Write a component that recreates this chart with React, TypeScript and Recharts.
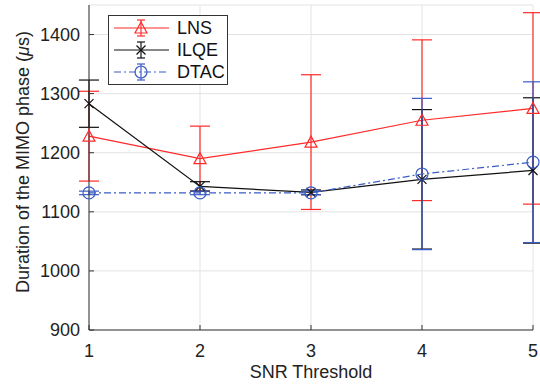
import React from 'react';
import { ComposedChart, Line, XAxis, YAxis, CartesianGrid, ErrorBar } from 'recharts';

const snr = [1, 2, 3, 4, 5];
const lns = [1228, 1190, 1218, 1255, 1275];
const lnsErr = [76, 55, 114, 136, 162];
const ilqe = [1283, 1143, 1133, 1155, 1170];
const ilqeErr = [40, 8, 4, 118, 123];
const dtac = [1132, 1132, 1132, 1164, 1184];
const dtacErr = [3, 3, 3, 128, 136];
const yTicks = [900, 1000, 1100, 1200, 1300, 1400];

const RED = '#ff2a2a';
const BLACK = '#111111';
const BLUE = '#3a5cc6';
const FONT = '"Liberation Sans", Arial, sans-serif';

const data = snr.map((s, i) => ({
  snr: s,
  lns: lns[i],
  lnsErr: lnsErr[i],
  ilqe: ilqe[i],
  ilqeErr: ilqeErr[i],
  dtac: dtac[i],
  dtacErr: dtacErr[i],
}));

const Triangle = ({ cx, cy, color }: any) => (
  <polygon points={`${cx},${cy - 6} ${cx - 6},${cy + 5} ${cx + 6},${cy + 5}`} fill="none" stroke={color} strokeWidth={1.2} />
);
const Cross = ({ cx, cy, color }: any) => (
  <g stroke={color} strokeWidth={1.2}>
    <line x1={cx - 4.5} y1={cy - 4.5} x2={cx + 4.5} y2={cy + 4.5} />
    <line x1={cx - 4.5} y1={cy + 4.5} x2={cx + 4.5} y2={cy - 4.5} />
  </g>
);
const Circle = ({ cx, cy, color }: any) => (
  <circle cx={cx} cy={cy} r={6} fill="none" stroke={color} strokeWidth={1.2} />
);

const series = [
  { name: 'LNS', color: RED, dash: undefined as string | undefined, Marker: Triangle },
  { name: 'ILQE', color: BLACK, dash: undefined as string | undefined, Marker: Cross },
  { name: 'DTAC', color: BLUE, dash: '7 3 2 3', Marker: Circle },
];

// legend drawn over the chart, like the MATLAB one in the top-left corner
const LegendBox = () => (
  <div
    style={{
      position: 'absolute', left: 108, top: 15, border: '1px solid #333', background: '#fff',
      width: 120, padding: '1px 0', fontFamily: FONT, fontSize: 18, boxSizing: 'border-box',
    }}
  >
    {series.map(({ name, color, dash, Marker }) => (
      <div key={name} style={{ display: 'flex', alignItems: 'center', height: 22 }}>
        <svg width={64} height={22} style={{ display: 'block' }}>
          <line x1={5} y1={11} x2={60} y2={11} stroke={color} strokeWidth={1.2} strokeDasharray={dash} />
          <line x1={32} y1={3} x2={32} y2={19} stroke={color} strokeWidth={1.2} />
          <line x1={28} y1={3} x2={36} y2={3} stroke={color} strokeWidth={1.2} />
          <line x1={28} y1={19} x2={36} y2={19} stroke={color} strokeWidth={1.2} />
          <Marker cx={32} cy={11} color={color} />
        </svg>
        <span style={{ marginLeft: 4, color: '#111' }}>{name}</span>
      </div>
    ))}
  </div>
);

const YLabel = () => {
  const x = 29;
  const y = 162;
  return (
    <text x={x} y={y} transform={`rotate(-90 ${x} ${y})`} textAnchor="middle" fontFamily={FONT} fontSize={18} fill="#222">
      Duration of the MIMO phase (<tspan fontStyle="italic">μ</tspan>s)
    </text>
  );
};

export default function App() {
  const tickStyle = { fontFamily: FONT, fontSize: 18, fill: '#222' };
  return (
    <div style={{ position: 'absolute', left: 0, top: 0, width: 540, height: 384, background: '#fff' }}>
      <ComposedChart width={540} height={384} data={data} margin={{ top: 5, right: 7, left: 0, bottom: 0 }}>
        <CartesianGrid stroke="#e3e3e3" />
        {/* negative tickSize = MATLAB style inward ticks */}
        <XAxis
          dataKey="snr"
          type="number"
          domain={[1, 5]}
          ticks={snr}
          tickSize={-5}
          tickMargin={19}
          height={54}
          stroke="#333"
          tick={tickStyle}
          label={{ value: 'SNR Threshold', position: 'insideBottom', offset: 6, style: { fontFamily: FONT, fontSize: 18, fill: '#222' } }}
        />
        <XAxis xAxisId="top" orientation="top" dataKey="snr" type="number" domain={[1, 5]} ticks={snr} height={0} tick={false} tickSize={-5} stroke="#333" />
        <YAxis
          type="number"
          domain={[900, 1450]}
          ticks={yTicks}
          allowDataOverflow
          tickSize={-5}
          tickMargin={14}
          width={89}
          stroke="#333"
          tick={tickStyle}
          label={{ content: YLabel }}
        />
        <YAxis yAxisId="right" orientation="right" domain={[900, 1450]} ticks={yTicks} width={0} tick={false} tickSize={-5} stroke="#333" />
        <Line
          dataKey="lns"
          name="LNS"
          stroke={RED}
          strokeWidth={1.2}
          isAnimationActive={false}
          dot={(p: any) => <Triangle key={`l${p.index}`} cx={p.cx} cy={p.cy} color={RED} />}
        >
          <ErrorBar dataKey="lnsErr" direction="y" width={10} stroke={RED} strokeWidth={1.2} isAnimationActive={false} />
        </Line>
        <Line
          dataKey="ilqe"
          name="ILQE"
          stroke={BLACK}
          strokeWidth={1.2}
          isAnimationActive={false}
          dot={(p: any) => <Cross key={`i${p.index}`} cx={p.cx} cy={p.cy} color={BLACK} />}
        >
          <ErrorBar dataKey="ilqeErr" direction="y" width={10} stroke={BLACK} strokeWidth={1.2} isAnimationActive={false} />
        </Line>
        <Line
          dataKey="dtac"
          name="DTAC"
          stroke={BLUE}
          strokeWidth={1.2}
          strokeDasharray="7 3 2 3"
          isAnimationActive={false}
          dot={(p: any) => <Circle key={`d${p.index}`} cx={p.cx} cy={p.cy} color={BLUE} />}
        >
          <ErrorBar dataKey="dtacErr" direction="y" width={10} stroke={BLUE} strokeWidth={1.2} isAnimationActive={false} />
        </Line>
      </ComposedChart>
      <LegendBox />
    </div>
  );
}
